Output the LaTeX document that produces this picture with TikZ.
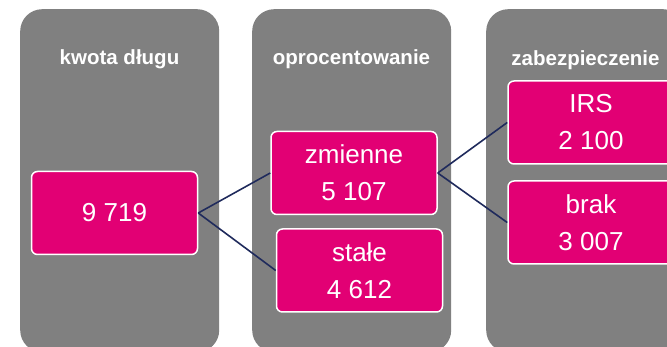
\documentclass[tikz,border=0pt]{standalone}
\usepackage{fontspec}
\setmainfont{Liberation Sans}
\definecolor{panelgrey}{HTML}{808080}
\definecolor{tmagenta}{HTML}{E20074}
\definecolor{linknavy}{HTML}{1F2A5C}
\begin{document}
\begin{tikzpicture}[x=1pt,y=-1pt,
  panel/.style={fill=panelgrey, rounded corners=22pt, minimum width=199pt, minimum height=343pt, anchor=north west, inner sep=0pt},
  coltitle/.style={text=white, font=\fontsize{20.5}{24}\selectfont\bfseries, anchor=base, inner sep=0pt},
  valbox/.style={fill=tmagenta, draw=white, line width=1.5pt, rounded corners=6pt, text=white,
    font=\fontsize{26}{37}\selectfont, align=center, inner sep=0pt, minimum width=166pt, minimum height=83pt},
  link/.style={draw=linknavy, line width=1.6pt}]
\useasboundingbox (0,0) rectangle (667,347);
\node[panel] (p1) at (20,9) {};
\node[panel] (p2) at (252,9) {};
\node[panel] (p3) at (486,9) {};
\node[coltitle] (t1) at (119.5,64.5) {kwota długu};
\node[coltitle] (t2) at (351.5,64.5) {oprocentowanie};
\node[coltitle] (t3) at (585.5,65.5) {zabezpieczenie};
\node[valbox] (b1) at (114.5,213) {9 719};
\node[valbox] (b2) at (354,173) {zmienne\\5 107};
\node[valbox] (b3) at (359.5,270.5) {stałe\\4 612};
\node[valbox] (b4) at (591,122.5) {IRS\\2 100};
\node[valbox] (b5) at (591,222.5) {brak\\3 007};
\draw[link] (b1.east) -- (b2.west);
\draw[link] (b1.east) -- (b3.west);
\draw[link] (b2.east) -- (b4.west);
\draw[link] (b2.east) -- (b5.west);
\end{tikzpicture}
\end{document}
